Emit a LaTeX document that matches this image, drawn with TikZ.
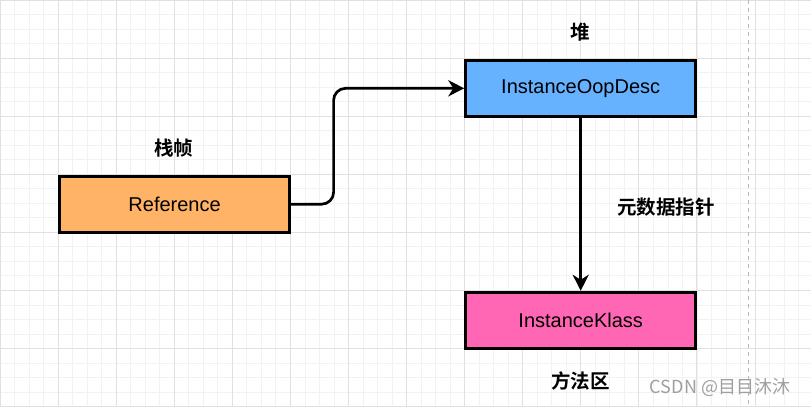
\documentclass[tikz,border=0pt]{standalone}
\usepackage{fontspec}
\setmainfont{Liberation Sans}
\newfontfamily\cjk{Noto Sans CJK SC Bold}
\newfontfamily\cjkthin{Noto Sans CJK SC}
\usetikzlibrary{arrows.meta}
\definecolor{boxorange}{HTML}{FFB366}
\definecolor{boxblue}{HTML}{66B2FF}
\definecolor{boxpink}{HTML}{FF66B3}
\definecolor{gridminor}{HTML}{F2F2F2}
\definecolor{gridmajor}{HTML}{E0E0E0}

\begin{document}
\begin{tikzpicture}[auto, x=1pt, y=-1pt,
    box/.style={draw, line width=2.8pt, minimum width=230pt, minimum height=56pt,
      font=\fontsize{20}{22}\selectfont},
    title/.style={font=\cjk\fontsize{19.5}{22}\selectfont},
    arr/.style={line width=2.7pt, -{Stealth[length=16pt, width=16pt, inset=5pt]}}]
    \fill [white] (0, 0) rectangle (811, 407);
    \useasboundingbox (0, 0) rectangle (811, 407);
    % grid
    \foreach \i in {0,...,55}
      \draw [gridminor, line width=0.8pt] (\i*14.52, 0) -- (\i*14.52, 407);
    \foreach \j in {0,...,28}
      \draw [gridminor, line width=0.8pt] (0, \j*14.52) -- (811, \j*14.52);
    \foreach \i in {0,...,13}
      \draw [gridmajor, line width=0.8pt] (\i*58.07, 0) -- (\i*58.07, 407);
    \foreach \j in {0,...,7}
      \draw [gridmajor, line width=0.8pt] (0, \j*58.07) -- (811, \j*58.07);
    \draw [gray!55, line width=0.8pt, dash pattern=on 4pt off 4pt] (748.7, 0) -- (748.7, 407);
    % boxes
    \node [box, fill=boxorange] (a) at (174.6, 204.2) {Reference};
    \node [box, fill=boxblue] (b) at (580.7, 88.3) {InstanceOopDesc};
    \node [box, fill=boxpink] (c) at (580.7, 320.2) {InstanceKlass};
    \node [title] (d) at (173.7, 148.5) {栈帧};
    \node [title] (e) at (580.5, 32.3) {堆};
    \node [title] (f) at (666, 206.7) {元数据指针};
    \node [title] (g) at (580.3, 380.7) {方法区};
    \node [font=\cjkthin\fontsize{18}{20}\selectfont, text=gray!75] (h) at (720, 387.5) {CSDN @目目沐沐};
    \draw [arr, rounded corners=12pt] (a.east) -- ++(42.6, 0) |- (b);
    \draw [arr] (b) to (c);
  \end{tikzpicture}
\end{document}
